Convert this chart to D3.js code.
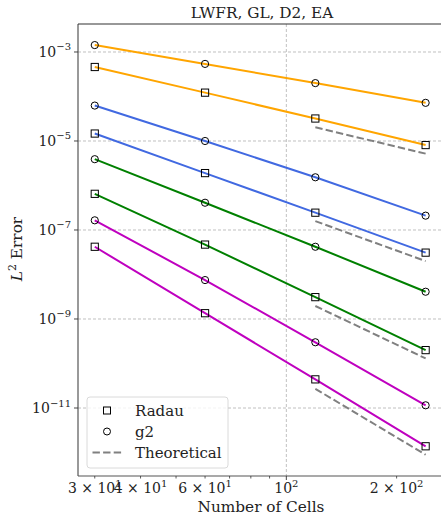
<!DOCTYPE html>
<html><head><meta charset="utf-8">
<script src="https://cdn.jsdelivr.net/npm/d3@7"></script>
<style>
html,body{margin:0;padding:0;background:#fff;}
svg{display:block;font-family:"DejaVu Serif",serif;}
</style></head>
<body><svg id="c" width="441" height="516"></svg>
<script>
const cells = [30, 60, 120, 240];
const orangeRadau = [4.6e-4, 1.22e-4, 3.2e-5, 8.1e-6];
const orangeG2 = [1.43e-3, 5.4e-4, 2.0e-4, 7.2e-5];
const blueRadau = [1.47e-5, 1.9e-6, 2.45e-7, 3.1e-8];
const blueG2 = [6.25e-5, 1.0e-5, 1.53e-6, 2.1e-7];
const greenRadau = [6.5e-7, 4.7e-8, 3.1e-9, 2.0e-10];
const greenG2 = [3.9e-6, 4.1e-7, 4.2e-8, 4.1e-9];
const magentaRadau = [4.2e-8, 1.35e-9, 4.4e-11, 1.38e-12];
const magentaG2 = [1.65e-7, 7.5e-9, 3.0e-10, 1.15e-11];
const theoCells = [120, 240];
const orangeTheo = [2.03e-5, 5.2e-6];
const blueTheo = [1.58e-7, 2.0e-8];
const greenTheo = [1.96e-9, 1.3e-10];
const magentaTheo = [2.7e-11, 8.9e-13];
const xTickValues = [30, 40, 60, 100, 200];
const xTickLabels = [["3 × 10","1"], ["4 × 10","1"], ["6 × 10","1"], ["10","2"], ["2 × 10","2"]];
const xMinorTicks = [30, 40, 50, 60, 70, 80, 90, 200];
const yTickValues = [1e-3, 1e-5, 1e-7, 1e-9, 1e-11];
const yTickExps = ["−3", "−5", "−7", "−9", "−11"];
const title = "LWFR, GL, D2, EA";
const xLabel = "Number of Cells";
const legendLabels = ["Radau", "g2", "Theoretical"];

const series = [
  {vals: orangeG2, color: "#FFA500", m: "circle"},
  {vals: orangeRadau, color: "#FFA500", m: "square"},
  {vals: blueG2, color: "#4169E1", m: "circle"},
  {vals: blueRadau, color: "#4169E1", m: "square"},
  {vals: greenG2, color: "#008000", m: "circle"},
  {vals: greenRadau, color: "#008000", m: "square"},
  {vals: magentaG2, color: "#BF00BF", m: "circle"},
  {vals: magentaRadau, color: "#BF00BF", m: "square"},
];
const theo = [orangeTheo, blueTheo, greenTheo, magentaTheo];

const L = 78, R = 442, T = 24, B = 476;
const svg = d3.select("#c");
const x = d3.scaleLog().domain([27.0, 266]).range([L, R]);
const y = d3.scaleLog().domain([Math.pow(10, -12.528), Math.pow(10, -2.371)]).range([B, T]);

// grid
const g = svg.append("g");
g.selectAll("line.hg").data(yTickValues).enter().append("line")
  .attr("x1", L).attr("x2", R).attr("y1", d => y(d)).attr("y2", d => y(d))
  .attr("stroke", "#b0b0b0").attr("stroke-width", 0.8).attr("stroke-dasharray", "3,2");
g.append("line").attr("x1", x(100)).attr("x2", x(100)).attr("y1", T).attr("y2", B)
  .attr("stroke", "#b0b0b0").attr("stroke-width", 0.8).attr("stroke-dasharray", "3,2");

// theoretical
const line = d3.line().x(d => x(d[0])).y(d => y(d[1]));
theo.forEach(t => {
  svg.append("path").datum(theoCells.map((c, i) => [c, t[i]])).attr("d", line)
    .attr("fill", "none").attr("stroke", "#808080").attr("stroke-width", 2)
    .attr("stroke-dasharray", "7.4,3.2");
});

// series
series.forEach(s => {
  const pts = cells.map((c, i) => [c, s.vals[i]]);
  svg.append("path").datum(pts).attr("d", line).attr("fill", "none")
    .attr("stroke", s.color).attr("stroke-width", 2);
  if (s.m === "circle") {
    svg.selectAll(null).data(pts).enter().append("circle")
      .attr("cx", d => x(d[0])).attr("cy", d => y(d[1])).attr("r", 3.6)
      .attr("fill", "none").attr("stroke", "#000").attr("stroke-width", 1);
  } else {
    svg.selectAll(null).data(pts).enter().append("rect")
      .attr("x", d => x(d[0]) - 3.6).attr("y", d => y(d[1]) - 3.6)
      .attr("width", 7.2).attr("height", 7.2)
      .attr("fill", "none").attr("stroke", "#000").attr("stroke-width", 1);
  }
});

// spines
svg.append("line").attr("x1", L).attr("x2", L).attr("y1", T).attr("y2", B).attr("stroke", "#555").attr("stroke-width", 1.2);
svg.append("line").attr("x1", L).attr("x2", R).attr("y1", B).attr("y2", B).attr("stroke", "#555").attr("stroke-width", 1.2);
svg.append("line").attr("x1", L).attr("x2", R).attr("y1", T).attr("y2", T).attr("stroke", "#333").attr("stroke-width", 1.2);

// x ticks
svg.selectAll(null).data(xMinorTicks).enter().append("line")
  .attr("x1", d => x(d)).attr("x2", d => x(d)).attr("y1", B).attr("y2", B + 2.5)
  .attr("stroke", "#333").attr("stroke-width", 0.8);
svg.append("line").attr("x1", x(100)).attr("x2", x(100)).attr("y1", B).attr("y2", B + 4)
  .attr("stroke", "#333").attr("stroke-width", 0.9);
xTickValues.forEach((v, i) => {
  const t = svg.append("text").attr("x", x(v)).attr("y", B + 16.5).attr("text-anchor", "middle")
    .attr("font-size", 14).attr("fill", "#222");
  t.append("tspan").text(xTickLabels[i][0]);
  t.append("tspan").attr("dy", -6).attr("font-size", 10).text(xTickLabels[i][1]);
});

// y ticks
yTickValues.forEach((v, i) => {
  svg.append("line").attr("x1", L - 4).attr("x2", L).attr("y1", y(v)).attr("y2", y(v))
    .attr("stroke", "#333").attr("stroke-width", 0.9);
  const t = svg.append("text").attr("x", L - 7).attr("y", y(v) + 5).attr("text-anchor", "end")
    .attr("font-size", 14).attr("fill", "#222");
  t.append("tspan").text("10");
  t.append("tspan").attr("dy", -6.5).attr("font-size", 10).text(yTickExps[i]);
});

// title & labels
svg.append("text").attr("x", 262).attr("y", 18).attr("text-anchor", "middle")
  .attr("font-size", 15.3).attr("fill", "#222").text(title);
svg.append("text").attr("x", 261).attr("y", 512).attr("text-anchor", "middle")
  .attr("font-size", 15.3).attr("fill", "#222").text(xLabel);
const yl = svg.append("text").attr("transform", "translate(22,249) rotate(-90)")
  .attr("text-anchor", "middle").attr("font-size", 15.3).attr("fill", "#222");
yl.append("tspan").attr("font-style", "italic").text("L");
yl.append("tspan").attr("dy", -6).attr("font-size", 11).text("2");
yl.append("tspan").attr("dy", 6).text(" Error");

// legend
const lg = svg.append("g");
lg.append("rect").attr("x", 87).attr("y", 397).attr("width", 141).attr("height", 71)
  .attr("rx", 3).attr("fill", "#fff").attr("fill-opacity", 0.8)
  .attr("stroke", "#d0d0d0").attr("stroke-width", 0.8);
const ly = [410.5, 431.5, 452.5];
lg.append("rect").attr("x", 103.5).attr("y", ly[0] - 3.5).attr("width", 7).attr("height", 7)
  .attr("fill", "none").attr("stroke", "#000").attr("stroke-width", 1);
lg.append("circle").attr("cx", 107).attr("cy", ly[1]).attr("r", 3.5)
  .attr("fill", "none").attr("stroke", "#000").attr("stroke-width", 1);
lg.append("line").attr("x1", 92.5).attr("x2", 122.5).attr("y1", ly[2]).attr("y2", ly[2])
  .attr("stroke", "#808080").attr("stroke-width", 2).attr("stroke-dasharray", "7.4,3.2");
legendLabels.forEach((s, i) => {
  lg.append("text").attr("x", 135).attr("y", ly[i] + 5).attr("font-size", 15)
    .attr("fill", "#222").text(s);
});
</script></body></html>
